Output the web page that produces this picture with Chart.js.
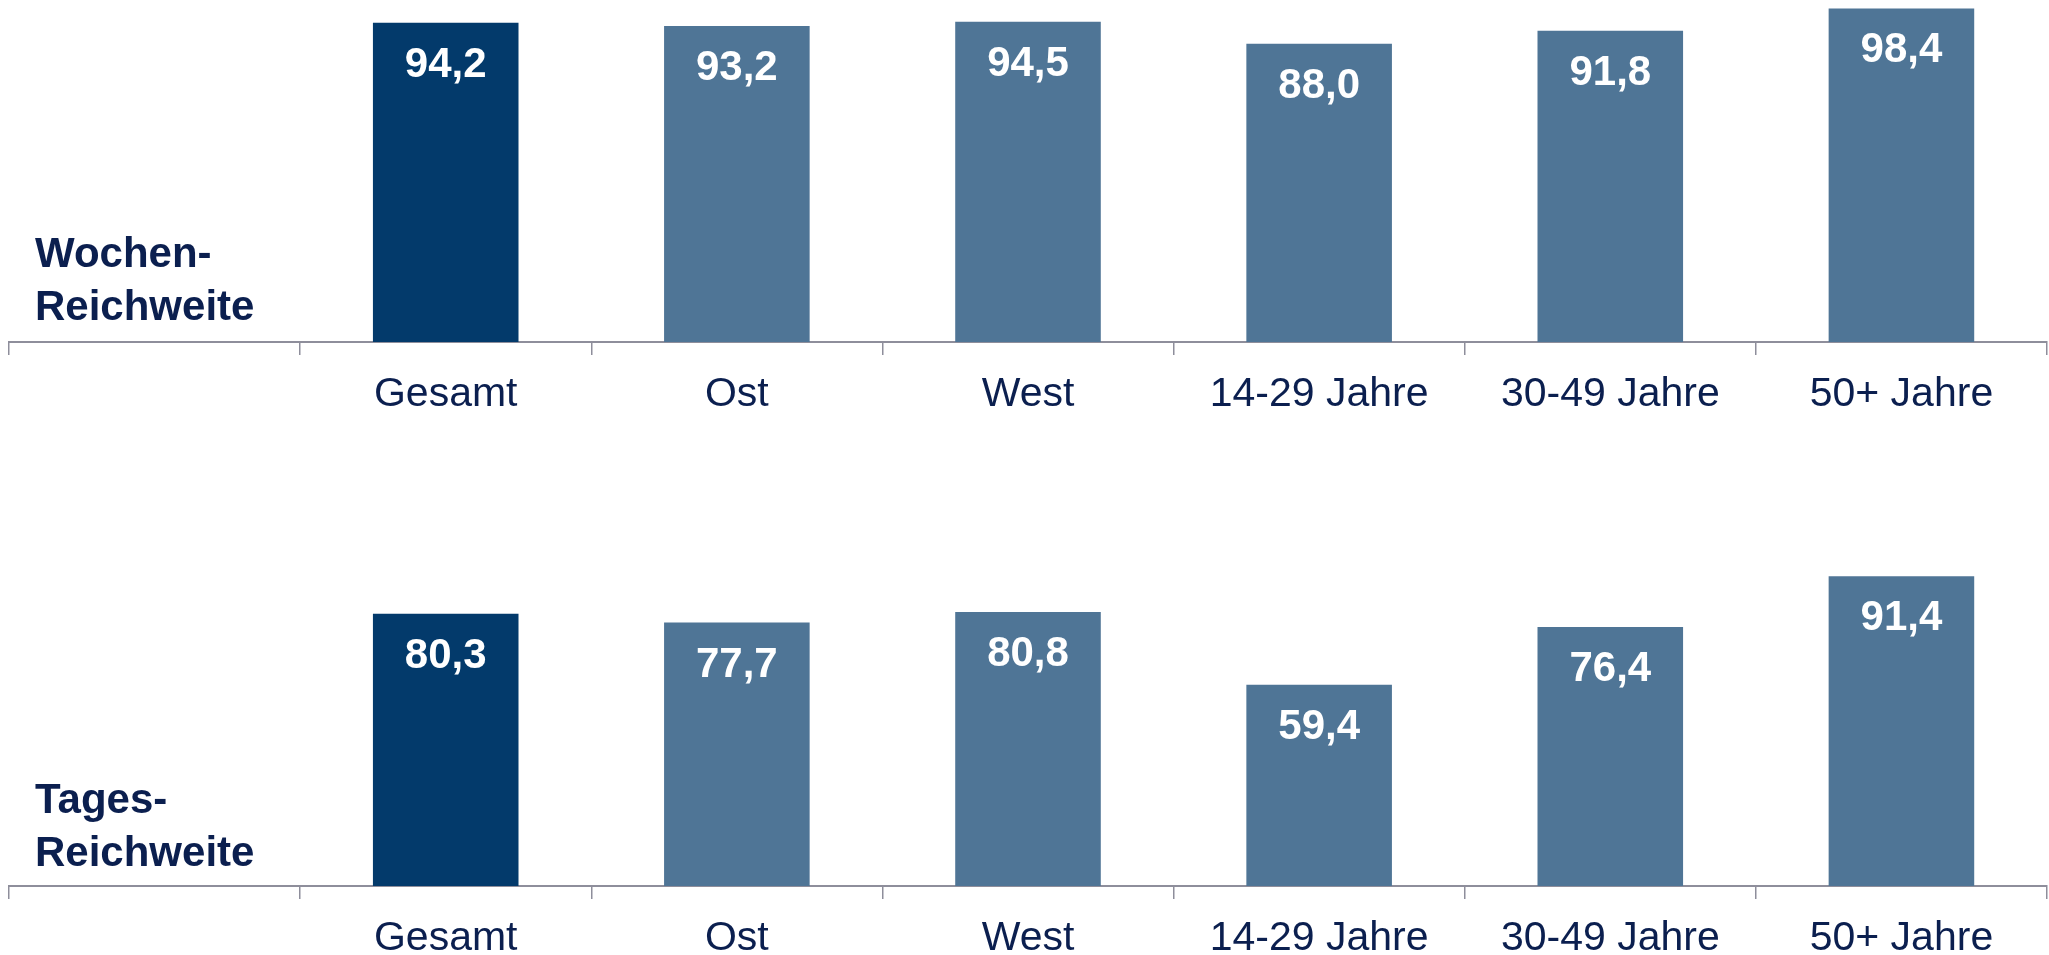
<!DOCTYPE html>
<html lang="de">
<head>
<meta charset="utf-8">
<title>Reichweite</title>
<script src="https://cdn.jsdelivr.net/npm/chart.js@4.4.1/dist/chart.umd.min.js"></script>
<style>
  html, body { margin: 0; padding: 0; background: #fff; overflow: hidden; }
  body { width: 2049px; height: 955px; position: relative; font-family: "Liberation Sans", Arial, sans-serif; }
  canvas { position: absolute; left: 0; }
  .row-label {
    position: absolute;
    left: 35px;
    font-weight: bold;
    font-size: 42px;
    line-height: 53px;
    color: #0b1f4f;
  }
</style>
</head>
<body>
<canvas id="weekly-chart" width="2049" height="450" style="top:0"></canvas>
<canvas id="daily-chart" width="2049" height="450" style="top:544px"></canvas>
<div class="row-label" style="top:226px">Wochen-<br>Reichweite</div>
<div class="row-label" style="top:772px">Tages-<br>Reichweite</div>

<script>
// first slot is empty, it holds the row label
const categories = ['', 'Gesamt', 'Ost', 'West', '14-29 Jahre', '30-49 Jahre', '50+ Jahre'];
const weeklyReach = [null, 94.2, 93.2, 94.5, 88.0, 91.8, 98.4];
const dailyReach = [null, 80.3, 77.7, 80.8, 59.4, 76.4, 91.4];

const DARK_BLUE = '#033a6b';
const LIGHT_BLUE = '#4f7596';
const TEXT_COLOR = '#0b1f4f';
const AXIS_COLOR = '#8e8e9b';
const FONT = '"Liberation Sans", Arial, sans-serif';

// Gesamt is highlighted, the rest share one colour
const barColors = categories.map((c, i) => (i === 1 ? DARK_BLUE : LIGHT_BLUE));

// white value labels inside the top of each bar
const valueLabels = {
  id: 'valueLabels',
  afterDatasetsDraw(chart) {
    const ctx = chart.ctx;
    const meta = chart.getDatasetMeta(0);
    const values = chart.data.datasets[0].data;
    ctx.save();
    ctx.fillStyle = '#fff';
    ctx.font = 'bold 42px ' + FONT;
    ctx.textAlign = 'center';
    ctx.textBaseline = 'alphabetic';
    meta.data.forEach((bar, i) => {
      if (values[i] == null) return;
      const text = values[i].toFixed(1).replace('.', ',');
      ctx.fillText(text, bar.x, bar.y + 54);
    });
    ctx.restore();
  }
};

function makeChart(canvasId, values) {
  const ctx = document.getElementById(canvasId).getContext('2d');
  return new Chart(ctx, {
    type: 'bar',
    data: {
      labels: categories,
      datasets: [{
        data: values,
        backgroundColor: barColors,
        borderWidth: 0,
        categoryPercentage: 1,
        barPercentage: 0.5,
      }],
    },
    options: {
      responsive: false,
      animation: false,
      devicePixelRatio: 1,
      layout: { padding: { left: 9, right: 2, top: 3, bottom: 0 } },
      plugins: {
        legend: { display: false },
        tooltip: { enabled: false },
      },
      scales: {
        x: {
          offset: true,
          grid: {
            offset: true,
            drawOnChartArea: false,
            drawTicks: true,
            tickLength: 13,
            color: AXIS_COLOR,
            lineWidth: 1.5,
          },
          border: { display: true, color: AXIS_COLOR, width: 2 },
          ticks: {
            color: TEXT_COLOR,
            padding: 15,
            maxRotation: 0,
            autoSkip: false,
            font: { family: FONT, size: 41, lineHeight: 1.2 },
          },
          afterFit(scale) {
            scale.height = 108;
          },
        },
        y: {
          display: false,
          min: 0,
          max: 100,
        },
      },
    },
    plugins: [valueLabels],
  });
}

makeChart('weekly-chart', weeklyReach);
makeChart('daily-chart', dailyReach);
</script>
</body>
</html>
